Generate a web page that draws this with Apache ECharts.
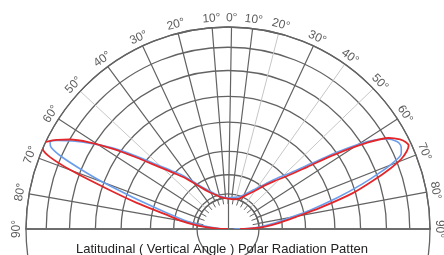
<!DOCTYPE html>
<html>
<head>
<meta charset="utf-8">
<script src="https://cdn.jsdelivr.net/npm/echarts@6/dist/echarts.min.js"></script>
<style>
  html, body { margin: 0; padding: 0; background: #fff; }
  #chart { width: 444px; height: 255px; }
</style>
</head>
<body>
<div id="chart"></div>
<script>
// angle grid (spokes) as drawn in the picture, and their labels
const spokeAngles = [-90, -80, -69.5, -57, -47, -36.5, -25, -14.3, -4.5, 1, 7, 14.5, 25, 35.3, 46, 57, 68.5, 79.5, 90];
const spokeLabels = ['90°', '80°', '70°', '60°', '50°', '40°', '30°', '20°', '10°', '0°', '10°', '20°', '30°', '40°', '50°', '60°', '70°', '80°', '90°'];
// spokes drawn in a faint grey in the picture
const lightSpokes = [-47, 14.5, 35.3, 46];
// radial rings (relative intensity)
const ringValues = [0.155, 0.175, 0.27, 0.385, 0.53, 0.657, 0.785, 0.9, 1.0];

// measured pattern
const angles = [-90, -88, -86, -83, -80, -77, -74, -71.5, -69.5, -68, -66.5, -65.2, -64, -62.5, -60.5, -58, -55, -52, -48, -44, -40, -34, -28, -20, -12, 0,
  12, 20, 28, 35, 40, 44, 48, 52, 55, 58, 60.5, 62.5, 64, 65.2, 66.5, 68, 69.5, 71.5, 74, 77, 80, 83, 86, 88, 90];
const redValues = [0, 0.05, 0.09, 0.16, 0.24, 0.31, 0.47, 0.64, 0.83, 0.95, 1.0, 1.01, 0.99, 0.955, 0.9, 0.81, 0.69, 0.575, 0.46, 0.385, 0.33, 0.255, 0.21, 0.18, 0.16, 0.15,
  0.15, 0.16, 0.19, 0.23, 0.28, 0.33, 0.39, 0.5, 0.64, 0.8, 0.915, 0.96, 0.98, 0.985, 0.965, 0.925, 0.86, 0.76, 0.64, 0.47, 0.34, 0.26, 0.19, 0.13, 0.06];
const blueValues = [0, 0.035, 0.05, 0.11, 0.19, 0.26, 0.36, 0.5, 0.66, 0.78, 0.9, 0.965, 0.98, 0.95, 0.885, 0.8, 0.7, 0.595, 0.48, 0.4, 0.345, 0.265, 0.22, 0.185, 0.165, 0.155,
  0.16, 0.17, 0.2, 0.245, 0.295, 0.35, 0.415, 0.53, 0.67, 0.82, 0.905, 0.94, 0.95, 0.945, 0.935, 0.885, 0.81, 0.7, 0.565, 0.42, 0.3, 0.225, 0.16, 0.11, 0.03];

const darkSpokes = spokeAngles.filter(a => lightSpokes.indexOf(a) < 0);

const C = [228, 229];
const R = 202;
const gridColor = '#636363';
const font = 'Liberation Sans, Arial, sans-serif';

const myChart = echarts.init(document.getElementById('chart'));

const hidden = { axisLine: { show: false }, axisTick: { show: false }, axisLabel: { show: false }, splitLine: { show: false } };

const option = {
  animation: false,
  title: {
    text: 'Latitudinal ( Vertical Angle ) Polar Radiation Patten',
    left: 'center',
    top: 243,
    padding: 0,
    textStyle: { fontSize: 13, fontWeight: 'normal', color: '#222', fontFamily: font }
  },
  polar: [
    { center: C, radius: [31, R] },
    { center: C, radius: [0, R] },
    { center: C, radius: [25, 31] },
    { center: C, radius: [0, 31] },
    { center: C, radius: [0, R] },
    { center: C, radius: [31, R] }
  ],
  angleAxis: [
    {
      polarIndex: 0, type: 'value', min: -90, max: 90, startAngle: 180, endAngle: 0, clockwise: true,
      axisLine: { show: true, lineStyle: { color: gridColor, width: 1.3 } },
      axisTick: { show: false, customValues: darkSpokes },
      axisLabel: { show: false },
      splitLine: { show: true, lineStyle: { color: gridColor, width: 1.2 } }
    },
    {
      polarIndex: 1, type: 'value', min: -90, max: 90, startAngle: 180, endAngle: 0, clockwise: true,
      show: false
    },
    {
      polarIndex: 2, type: 'value', min: -90, max: 90, interval: 10, startAngle: 180, endAngle: 0, clockwise: true,
      axisLine: { show: false }, axisTick: { show: false }, axisLabel: { show: false },
      splitLine: { show: true, lineStyle: { color: gridColor, width: 1 } }
    },
    { polarIndex: 3, type: 'value', min: 0, max: 360, startAngle: 90, show: false },
    { polarIndex: 4, type: 'value', min: 0, max: 360, startAngle: 0, show: false },
    {
      polarIndex: 5, type: 'value', min: -90, max: 90, startAngle: 180, endAngle: 0, clockwise: true,
      axisLine: { show: false },
      axisTick: { show: false, customValues: lightSpokes },
      axisLabel: { show: false },
      splitLine: { show: true, lineStyle: { color: '#c6c6c6', width: 1 } }
    }
  ],
  radiusAxis: [
    {
      polarIndex: 0, type: 'value', min: 0.155, max: 1,
      axisLine: { show: false },
      axisTick: { show: false, customValues: ringValues },
      axisLabel: { show: false },
      splitLine: { show: true, lineStyle: { color: gridColor, width: 1.3 } }
    },
    {
      polarIndex: 1, type: 'value', min: 0, max: 1,
      axisLine: { show: true, lineStyle: { color: '#6e6e6e', width: 1.8 } },
      axisTick: { show: false }, axisLabel: { show: false }, splitLine: { show: false }
    },
    Object.assign({ polarIndex: 2, type: 'value', min: 0, max: 1 }, hidden),
    {
      polarIndex: 3, type: 'value', min: 0, max: 1,
      axisLine: { show: true, lineStyle: { color: gridColor, width: 1.2 } },
      axisTick: { show: false }, axisLabel: { show: false }, splitLine: { show: false }
    },
    {
      polarIndex: 4, type: 'value', min: 0, max: 1,
      axisLine: { show: true, lineStyle: { color: '#6e6e6e', width: 1.8 } },
      axisTick: { show: false }, axisLabel: { show: false }, splitLine: { show: false }
    },
    Object.assign({ polarIndex: 5, type: 'value', min: 0.155, max: 1 }, hidden)
  ],
  series: [
    {
      name: 'red', type: 'line', coordinateSystem: 'polar', polarIndex: 1,
      data: angles.map((a, i) => [redValues[i], a]),
      symbol: 'none', smooth: 0.3, clip: false, z: 4,
      lineStyle: { color: '#e3262a', width: 1.8 }
    },
    {
      name: 'blue', type: 'line', coordinateSystem: 'polar', polarIndex: 1,
      data: angles.map((a, i) => [blueValues[i], a]),
      symbol: 'none', smooth: 0.3, clip: false, z: 3,
      lineStyle: { color: '#6b9ded', width: 1.6 }
    },
    {
      name: 'labels', type: 'scatter', coordinateSystem: 'polar', polarIndex: 1,
      symbolSize: 1, clip: false, silent: true,
      itemStyle: { color: 'rgba(0,0,0,0)' },
      data: spokeAngles.map((a, i) => ({
        value: [1.045, a],
        label: { rotate: -a, formatter: spokeLabels[i] }
      })),
      label: {
        show: true, position: 'inside', align: 'center', verticalAlign: 'middle',
        color: '#333', fontSize: 12, fontFamily: font
      }
    }
  ]
};

myChart.setOption(option, true);
</script>
</body>
</html>
